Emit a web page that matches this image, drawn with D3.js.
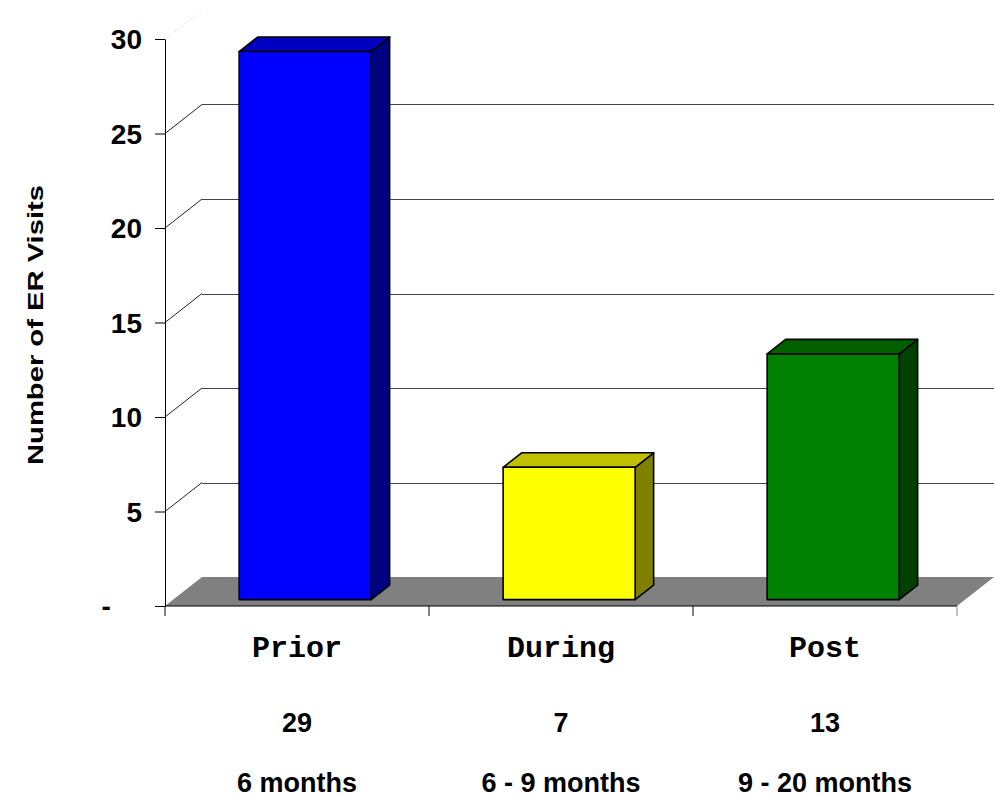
<!DOCTYPE html>
<html>
<head>
<meta charset="utf-8">
<script src="https://cdn.jsdelivr.net/npm/d3@7/dist/d3.min.js"></script>
<style>
  html, body { margin: 0; padding: 0; background: #fff; }
  svg { display: block; }
  text { white-space: pre; }
</style>
</head>
<body>
<svg id="chart" width="996" height="799"></svg>
<script>
// ER visits by treatment period
const categories = ["Prior", "During", "Post"];
const visits = [29, 7, 13];
const periods = ["6 months", "6 - 9 months", "9 - 20 months"];
const yTicks = [0, 5, 10, 15, 20, 25, 30];
const faceColors = [
  { front: "#0000ff", top: "#0000c0", side: "#000080" },
  { front: "#ffff00", top: "#c0c000", side: "#808000" },
  { front: "#008000", top: "#006000", side: "#004000" }
];

const svg = d3.select("#chart");
const sans = "'Liberation Sans', Arial, sans-serif";
const mono = "'Liberation Mono', 'Courier New', monospace";

// plot frame and 3-D depth of the walls
const plotLeft = 165, plotRight = 957, plotBottom = 606, plotTop = 39;
const depthX = 37, depthY = 29;

const x = d3.scaleBand().domain(categories).range([plotLeft, plotRight])
  .paddingInner(0.5).paddingOuter(0.25);
const y = d3.scaleLinear().domain([0, 30]).range([plotBottom, plotTop]);

// bars sit part-way into the floor depth
const barFront = 0.22, barDepth = 0.5;

// floor
svg.append("polygon")
  .attr("points", [
    [plotLeft, plotBottom], [plotRight, plotBottom],
    [plotRight + depthX, plotBottom - depthY], [plotLeft + depthX, plotBottom - depthY]
  ].map(p => p.join(",")).join(" "))
  .attr("fill", "#808080");

// back-wall gridlines and their side-wall diagonals
const gridVals = yTicks.filter(v => v > 0 && v < 30);
svg.append("g").selectAll("line").data(gridVals).join("line")
  .attr("x1", plotLeft + depthX).attr("x2", plotRight + depthX)
  .attr("y1", d => Math.round(y(d) - depthY) + 0.5)
  .attr("y2", d => Math.round(y(d) - depthY) + 0.5)
  .attr("stroke", "#444").attr("stroke-width", 1);
svg.append("g").selectAll("line").data(gridVals).join("line")
  .attr("x1", plotLeft).attr("y1", d => y(d))
  .attr("x2", plotLeft + depthX).attr("y2", d => y(d) - depthY)
  .attr("stroke", "#222").attr("stroke-width", 1);
svg.append("line")
  .attr("x1", plotLeft).attr("y1", y(30))
  .attr("x2", plotLeft + depthX).attr("y2", y(30) - depthY)
  .attr("stroke", "#e4e4e4").attr("stroke-width", 1)
  .attr("stroke-dasharray", "2,2");

// y axis
const yAxis = d3.axisLeft(y).tickValues(yTicks).tickSize(10).tickSizeOuter(0)
  .tickPadding(13)
  .tickFormat(d => d === 0 ? "-\u2007\u2007" : String(d));
const gy = svg.append("g").attr("transform", `translate(${plotLeft},0)`).call(yAxis);
gy.select(".domain").attr("stroke", "#000");
gy.selectAll(".tick line").attr("stroke", "#000");
gy.selectAll(".tick text")
  .attr("font-family", sans).attr("font-weight", "bold")
  .attr("font-size", 28).attr("fill", "#000").attr("dy", "0.34em");

// x axis with ticks on category boundaries
const step = x.step();
const xBounds = d3.range(categories.length + 1).map(i => plotLeft + i * step);
svg.append("line")
  .attr("x1", plotLeft).attr("x2", plotRight)
  .attr("y1", plotBottom).attr("y2", plotBottom)
  .attr("stroke", "#000").attr("stroke-width", 1);
svg.append("g").selectAll("line").data(xBounds).join("line")
  .attr("x1", d => d).attr("x2", d => d)
  .attr("y1", plotBottom).attr("y2", plotBottom + 10)
  .attr("stroke", (d, i) => i === xBounds.length - 1 ? "#888" : "#000")
  .attr("stroke-width", 1);

// 3-D bars
const bars = svg.append("g").selectAll("g").data(categories).join("g");
bars.each(function (c, i) {
  const g = d3.select(this);
  const ox = barFront * depthX, oy = barFront * depthY;
  const dx = barDepth * depthX, dy = barDepth * depthY;
  const x0 = x(c) + ox, x1 = x(c) + x.bandwidth() + ox;
  const yb = y(0) - oy, yt = y(visits[i]) - oy;
  const col = faceColors[i];
  const poly = pts => pts.map(p => p.join(",")).join(" ");
  const style = sel => sel.attr("stroke", "#000").attr("stroke-width", 1.6)
    .attr("stroke-linejoin", "round");
  g.append("polygon").attr("points", poly([[x1, yt], [x1 + dx, yt - dy], [x1 + dx, yb - dy], [x1, yb]]))
    .attr("fill", col.side).call(style);
  g.append("polygon").attr("points", poly([[x0, yt], [x1, yt], [x1 + dx, yt - dy], [x0 + dx, yt - dy]]))
    .attr("fill", col.top).call(style);
  g.append("rect").attr("x", x0).attr("y", yt)
    .attr("width", x1 - x0).attr("height", yb - yt)
    .attr("fill", col.front).call(style);
});

// category labels, values and periods under the axis
const labels = svg.append("g").selectAll("g").data(categories).join("g")
  .attr("transform", c => `translate(${x(c) + x.bandwidth() / 2},0)`)
  .attr("text-anchor", "middle").attr("fill", "#000");
labels.append("text").attr("y", 657).text(c => c)
  .attr("font-family", mono).attr("font-weight", "bold").attr("font-size", 30);
labels.append("text").attr("y", 732).text((c, i) => String(visits[i]))
  .attr("font-family", sans).attr("font-weight", "bold").attr("font-size", 27);
labels.append("text").attr("y", 792).text((c, i) => periods[i])
  .attr("font-family", sans).attr("font-weight", "bold").attr("font-size", 27);

// y axis title
svg.append("text")
  .attr("transform", "translate(43,325) rotate(-90)")
  .attr("text-anchor", "middle")
  .attr("font-family", sans).attr("font-weight", "bold").attr("font-size", 22)
  .attr("textLength", 280).attr("lengthAdjust", "spacingAndGlyphs")
  .text("Number of ER Visits");
</script>
</body>
</html>
